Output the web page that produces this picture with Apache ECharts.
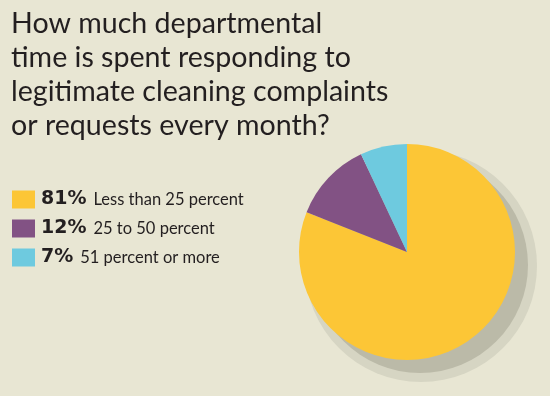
<!DOCTYPE html>
<html>
<head>
<meta charset="utf-8">
<script src="https://cdn.jsdelivr.net/npm/echarts@6/dist/echarts.min.js"></script>
<style>
  html, body { margin: 0; padding: 0; background: #e8e6d3; }
  #chart { width: 550px; height: 396px; }
</style>
</head>
<body>
<div id="chart"></div>
<script>
const titleLines = [
  'How much departmental',
  'time is spent responding to',
  'legitimate cleaning complaints',
  'or requests every month?'
]
const categories = ['Less than 25 percent', '25 to 50 percent', '51 percent or more']
const values = [81, 12, 7]
const colors = ['#fcc636', '#825284', '#6ecadf']

const chart = echarts.init(document.getElementById('chart'))

chart.setOption({
  backgroundColor: '#e8e6d3',
  animation: false,
  title: {
    text: titleLines.join('\n'),
    left: 6,
    top: 2,
    textStyle: {
      fontFamily: 'Lato',
      fontWeight: 'normal',
      fontSize: 28.6,
      lineHeight: 34,
      color: '#231f20'
    }
  },
  legend: {
    orient: 'vertical',
    left: 12,
    top: 190,
    padding: 0,
    itemWidth: 23,
    itemHeight: 18,
    itemGap: 10,
    icon: 'rect',
    data: categories,
    formatter: name => {
      const i = categories.indexOf(name)
      return '{p|' + values[i] + '%}{n|' + name + '}'
    },
    textStyle: {
      padding: [0, 0, 0, 1],
      rich: {
        p: { fontFamily: 'DejaVu Sans', fontWeight: 'bold', fontSize: 19, color: '#231f20' },
        n: { fontFamily: 'Lato', fontSize: 16.5, color: '#231f20', padding: [1, 0, 0, 7] }
      }
    }
  },
  series: [
    {
      type: 'pie',
      silent: true,
      center: [421, 266],
      radius: 116,
      label: { show: false },
      itemStyle: { color: '#d6d5c3' },
      data: [{ value: 1, name: 'shadowOuter' }],
      z: 1
    },
    {
      type: 'pie',
      silent: true,
      center: [420, 265],
      radius: 108,
      label: { show: false },
      itemStyle: { color: '#bbbaa8' },
      data: [{ value: 1, name: 'shadow' }],
      z: 2
    },
    {
      type: 'pie',
      center: [407, 252],
      radius: 108,
      startAngle: 90,
      clockwise: true,
      label: { show: false },
      labelLine: { show: false },
      data: categories.map((c, i) => ({ name: c, value: values[i], itemStyle: { color: colors[i] } })),
      z: 3
    }
  ]
})
</script>
</body>
</html>
